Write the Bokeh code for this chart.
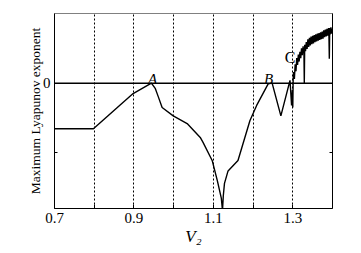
from bokeh.plotting import figure
from bokeh.models import FixedTicker, Span, Label, LinearAxis, Range1d
from bokeh.embed import file_html
from bokeh.resources import INLINE

# ---- data ----
v2 = [0.700, 0.798, 0.866, 0.898, 0.944, 0.954, 0.961, 0.971, 0.999, 1.034,
      1.067, 1.074, 1.097, 1.110, 1.120, 1.123, 1.125, 1.128, 1.137, 1.162,
      1.172, 1.192, 1.209, 1.238, 1.248, 1.270, 1.293, 1.297, 1.299, 1.300,
      1.301, 1.302, 1.304, 1.306, 1.308, 1.310, 1.312, 1.314, 1.316, 1.318,
      1.320, 1.322, 1.324, 1.326, 1.327, 1.328, 1.329, 1.330, 1.332, 1.334, 1.336,
      1.338, 1.340, 1.342, 1.344, 1.346, 1.348, 1.350, 1.352, 1.354, 1.356,
      1.358, 1.360, 1.362, 1.364, 1.366, 1.368, 1.370, 1.372, 1.374, 1.376,
      1.378, 1.380, 1.382, 1.384, 1.386, 1.388, 1.390, 1.391, 1.392, 1.393,
      1.394, 1.396, 1.398, 1.400]
mle = [-0.654, -0.654, -0.31, -0.15, 0.00, -0.08, -0.19, -0.35, -0.47, -0.58,
       -0.78, -0.85, -1.11, -1.40, -1.65, -1.83, -1.62, -1.44, -1.26, -1.11,
       -0.92, -0.54, -0.32, -0.01, 0.00, -0.47, 0.04, -0.32, -0.10, -0.35,
       0.06, 0.16, 0.06, 0.27, 0.17, 0.36, 0.26, 0.41, 0.31, 0.45,
       0.36, 0.50, 0.40, 0.53, 0.44, 0.48, 0.00, 0.55, 0.46, 0.59, 0.49,
       0.63, 0.52, 0.65, 0.54, 0.67, 0.56, 0.68, 0.57, 0.69, 0.59,
       0.70, 0.60, 0.71, 0.61, 0.72, 0.62, 0.73, 0.63, 0.74, 0.64,
       0.76, 0.66, 0.77, 0.67, 0.78, 0.68, 0.79, 0.70, 0.35, 0.79,
       0.70, 0.80, 0.71, 0.78]

x_labeled_ticks = [0.7, 0.9, 1.1, 1.3]
x_minor_ticks = [0.8, 1.0, 1.2]
grid_ticks = [0.8, 0.9, 1.0, 1.1, 1.2, 1.3]
y_ticks = [-1, 0]
point_labels = ["A", "B", "C"]
point_x = [0.947, 1.239, 1.293]
point_y = [0.065, 0.065, 0.366]

SERIF = "Liberation Serif"

p = figure(frame_width=278, frame_height=195, output_backend="svg",
           toolbar_location=None,
           x_range=Range1d(0.7, 1.4), y_range=Range1d(-1.8, 1.0),
           min_border_left=54, min_border_right=20, min_border_top=13,
           min_border_bottom=36)
p.background_fill_color = "white"
p.border_fill_color = "white"
p.outline_line_color = "#808080"
p.outline_line_width = 1

# axes
xa = p.xaxis[0]
xa.ticker = FixedTicker(ticks=x_labeled_ticks, minor_ticks=x_minor_ticks)
xa.major_tick_in = 4
xa.major_tick_out = 0
xa.minor_tick_in = 4
xa.minor_tick_out = 0
xa.major_label_standoff = 4
xa.major_label_text_font = SERIF
xa.major_label_text_font_size = "15px"
xa.major_label_text_color = "black"
xa.axis_line_color = "black"
xa.major_tick_line_color = "black"
xa.minor_tick_line_color = "black"
xa.axis_label = "V\u2082"
xa.axis_label_text_font = SERIF
xa.axis_label_text_font_style = "italic"
xa.axis_label_text_font_size = "17px"
xa.axis_label_standoff = 1
xa.axis_label_text_color = "black"

ya = p.yaxis[0]
ya.ticker = FixedTicker(ticks=y_ticks, minor_ticks=[])
ya.major_label_overrides = {-1: ""}
ya.major_tick_in = 3
ya.major_tick_out = 0
ya.minor_tick_line_color = None
ya.major_label_standoff = 4
ya.major_label_text_font = SERIF
ya.major_label_text_font_size = "15px"
ya.major_label_text_color = "black"
ya.axis_label = "Maximum Lyapunov exponent"
ya.axis_label_text_font = SERIF
ya.axis_label_text_font_style = "normal"
ya.axis_label_text_font_size = "13.5px"
ya.axis_label_standoff = -3
ya.axis_label_text_color = "black"
ya.axis_line_color = "black"

ra = LinearAxis(ticker=FixedTicker(ticks=y_ticks, minor_ticks=[]))
ra.major_label_overrides = {-1: "", 0: ""}
ra.major_label_standoff = 0
ra.major_tick_in = 3
ra.major_tick_out = 0
ra.minor_tick_line_color = None
ra.axis_line_color = "black"
p.add_layout(ra, "right")

# grid: vertical dashed only
p.ygrid.grid_line_color = None
p.xgrid.ticker = FixedTicker(ticks=grid_ticks)
p.xgrid.grid_line_color = "black"
p.xgrid.grid_line_dash = "2 2"
p.xgrid.grid_line_width = 1
p.xgrid.grid_line_alpha = 1.0

# zero line
p.add_layout(Span(location=0, dimension="width", line_color="black", line_width=1.5))

# curve
p.line(v2, mle, line_color="black", line_width=1.4)

# annotations A, B, C
for t, xx, yy in zip(point_labels, point_x, point_y):
    p.add_layout(Label(x=xx, y=yy, text=t, text_align="center",
                       text_baseline="alphabetic", text_font=SERIF,
                       text_font_size="15px" if t != "C" else "16px",
                       text_font_style="italic" if t != "C" else "normal",
                       text_color="black"))

open("out.html", "w").write(file_html(p, INLINE))
